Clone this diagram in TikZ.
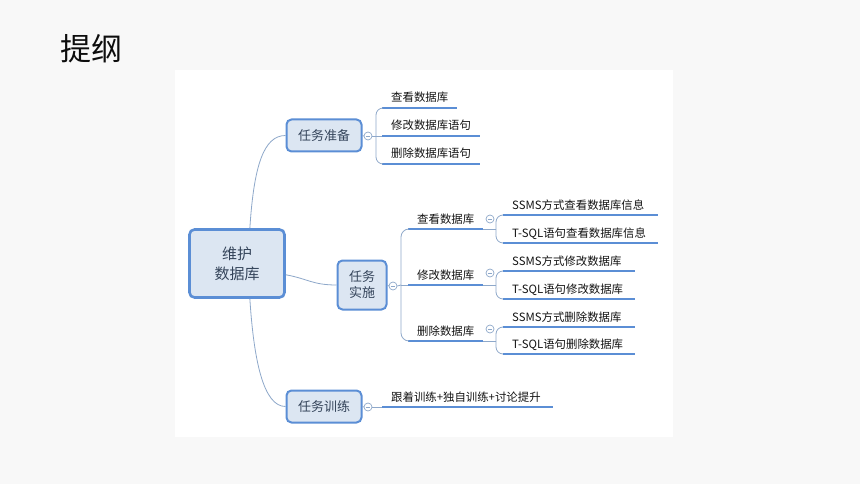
\documentclass[tikz,border=0pt]{standalone}
\usepackage{fontspec}
\setmainfont{Noto Sans CJK SC}
\usetikzlibrary{calc}

\definecolor{slidebg}{HTML}{F8F8F8}
\definecolor{boxfill}{HTML}{DCE6F2}
\definecolor{boxline}{HTML}{5B8ED5}
\definecolor{linec}{HTML}{8EA8CA}
\definecolor{boxtext}{HTML}{34445A}

\tikzset{
  topic/.style={draw=boxline, fill=boxfill, line width=2pt, rounded corners=5pt,
    text=boxtext, align=center, inner sep=0pt, font=\fontsize{13}{16}\selectfont},
  leaf/.style={anchor=base west, inner sep=0pt, xshift=9pt, yshift=6pt,
    text=black!92, font=\fontsize{11.4}{13}\selectfont},
  uline/.style={draw=boxline, line width=2.5pt},
  conn/.style={draw=linec, line width=0.8pt},
  fold/.style={circle, draw=linec, fill=white, line width=0.7pt, inner sep=0pt,
    minimum size=8pt, path picture={\draw[linec, line width=0.7pt]
      ([xshift=-2.2pt]path picture bounding box.center) --
      ([xshift=2.2pt]path picture bounding box.center);}}
}

\begin{document}
\begin{tikzpicture}[x=1pt, y=-1pt]
  \useasboundingbox (0,0) rectangle (860,484);
  \fill[slidebg] (0,0) rectangle (860,484);
  % white panel of the mind map
  \fill[white] (175,70) rectangle (673,437);

  % title
  \node[anchor=west, inner sep=0pt, font=\fontsize{31}{36}\selectfont, text=black!95]
    (title) at (60,49) {提纲};

  % topics
  \node[topic, line width=2.6pt, minimum width=95pt, minimum height=68pt,
    font=\fontsize{15}{20}\selectfont] (root) at (237,263.5) {维护\\数据库};
  \node[topic, minimum width=75pt, minimum height=32pt] (prep) at (324,135.5) {任务准备};
  \node[topic, minimum width=49pt, minimum height=49pt] (impl) at (362,285) {任务\\实施};
  \node[topic, minimum width=75pt, minimum height=32pt] (train) at (324,406.5) {任务训练};

  % root to topics
  \draw[conn] (root.70) .. controls +(4,-62) and +(-22,0) .. (prep.west);
  \draw[conn] (root.-13) .. controls +(22,4) and +(-24,0) .. (impl.west);
  \draw[conn] (root.-70) .. controls +(4,62) and +(-22,0) .. (train.west);

  % fold buttons
  \node[fold] (f1) at (368,136) {};
  \node[fold] (f2) at (393,286) {};
  \node[fold] (f3) at (368,407) {};
  \draw[conn] (prep.east) -- (f1.west);
  \draw[conn] (impl.east) -- (f2.west);
  \draw[conn] (train.east) -- (f3.west);

  % prep children
  \coordinate (p1) at (382,108); \coordinate (p1e) at (457,108);
  \coordinate (p2) at (382,136); \coordinate (p2e) at (480,136);
  \coordinate (p3) at (382,164); \coordinate (p3e) at (480,164);
  \draw[uline] (p1) -- (p1e);
  \draw[uline] (p2) -- (p2e);
  \draw[uline] (p3) -- (p3e);
  \node[leaf] (p1t) at (p1) {查看数据库};
  \node[leaf] (p2t) at (p2) {修改数据库语句};
  \node[leaf] (p3t) at (p3) {删除数据库语句};
  \draw[conn] (f1.east) -- (376,136) coordinate (b1);
  \draw[conn, rounded corners=7pt] (b1) |- (p1);
  \draw[conn] (b1) -- (p2);
  \draw[conn, rounded corners=7pt] (b1) |- (p3);

  % impl children
  \coordinate (q1) at (408,229); \coordinate (q1e) at (483,229);
  \coordinate (q2) at (408,285); \coordinate (q2e) at (483,285);
  \coordinate (q3) at (408,341); \coordinate (q3e) at (483,341);
  \draw[uline] (q1) -- (q1e);
  \draw[uline] (q2) -- (q2e);
  \draw[uline] (q3) -- (q3e);
  \node[leaf] (q1t) at (q1) {查看数据库};
  \node[leaf] (q2t) at (q2) {修改数据库};
  \node[leaf] (q3t) at (q3) {删除数据库};
  \draw[conn] (f2.east) -- (401,285) coordinate (b2);
  \draw[conn, rounded corners=8pt] (b2) |- (q1);
  \draw[conn] (b2) -- (q2);
  \draw[conn, rounded corners=8pt] (b2) |- (q3);
  \node[fold] (g1) at (490,219) {};
  \node[fold] (g2) at (490,273) {};
  \node[fold] (g3) at (490,329) {};

  % leaves of 查看数据库
  \coordinate (r1) at (503,215); \coordinate (r1e) at (658,215);
  \coordinate (r2) at (503,243); \coordinate (r2e) at (658,243);
  \draw[uline] (r1) -- (r1e);
  \draw[uline] (r2) -- (r2e);
  \node[leaf] (r1t) at (r1) {SSMS方式查看数据库信息};
  \node[leaf] (r2t) at (r2) {T-SQL语句查看数据库信息};
  \draw[conn] (q1e) -- (496,229) coordinate (c1);
  \draw[conn, rounded corners=7pt] (c1) |- (r1);
  \draw[conn, rounded corners=7pt] (c1) |- (r2);

  % leaves of 修改数据库
  \coordinate (s1) at (503,271); \coordinate (s1e) at (635,271);
  \coordinate (s2) at (503,299); \coordinate (s2e) at (635,299);
  \draw[uline] (s1) -- (s1e);
  \draw[uline] (s2) -- (s2e);
  \node[leaf] (s1t) at (s1) {SSMS方式修改数据库};
  \node[leaf] (s2t) at (s2) {T-SQL语句修改数据库};
  \draw[conn] (q2e) -- (496,285) coordinate (c2);
  \draw[conn, rounded corners=7pt] (c2) |- (s1);
  \draw[conn, rounded corners=7pt] (c2) |- (s2);

  % leaves of 删除数据库
  \coordinate (u1) at (503,327); \coordinate (u1e) at (635,327);
  \coordinate (u2) at (503,354); \coordinate (u2e) at (635,354);
  \draw[uline] (u1) -- (u1e);
  \draw[uline] (u2) -- (u2e);
  \node[leaf] (u1t) at (u1) {SSMS方式删除数据库};
  \node[leaf] (u2t) at (u2) {T-SQL语句删除数据库};
  \draw[conn] (q3e) -- (496,341) coordinate (c3);
  \draw[conn, rounded corners=7pt] (c3) |- (u1);
  \draw[conn, rounded corners=7pt] (c3) |- (u2);

  % train child
  \coordinate (t1) at (382,407); \coordinate (t1e) at (553,407);
  \draw[conn] (f3.east) -- (t1);
  \draw[uline] (t1) -- (t1e);
  \node[leaf] (t1t) at (t1) {跟着训练+独自训练+讨论提升};
\end{tikzpicture}
\end{document}
